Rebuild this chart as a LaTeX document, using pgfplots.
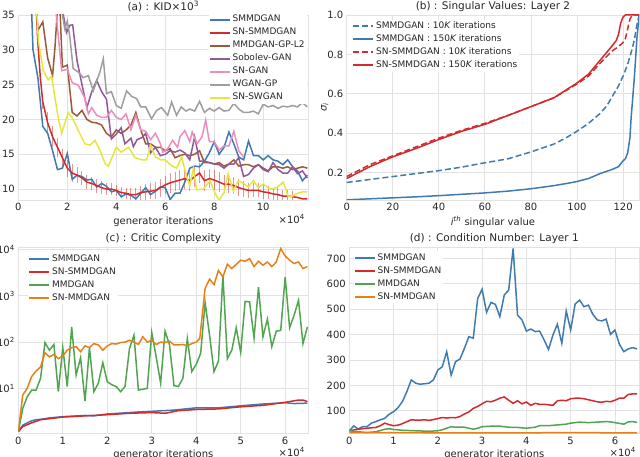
\documentclass[border=0pt]{standalone}
\usepackage{fontspec}
\setmainfont{DejaVu Sans}
\usepackage{pgfplots}
\pgfplotsset{compat=1.18}
\definecolor{cb}{HTML}{3F7AB0}
\definecolor{cr}{HTML}{D42A2C}
\definecolor{cg}{HTML}{52A550}
\definecolor{cp}{HTML}{925799}
\definecolor{co}{HTML}{E8801A}
\definecolor{cy}{HTML}{E6E640}
\definecolor{cbr}{HTML}{9A5A35}
\definecolor{cpk}{HTML}{EB8DBE}
\definecolor{cgr}{HTML}{9E9E9E}
\definecolor{gridc}{HTML}{E2E2E2}
\definecolor{txt}{HTML}{262626}
\pgfplotsset{
 every axis title shift=0pt,
 sea/.style={
  scale only axis,
  axis line style={draw=gridc, line width=0.9pt},
  grid=major, major grid style={draw=gridc, line width=0.9pt},
  major tick length=0pt, minor tick length=0pt,
  tick label style={font=\fontsize{10}{12}\selectfont, text=txt},
  label style={font=\fontsize{10}{12}\selectfont, text=txt},
  title style={font=\fontsize{10.5}{12}\selectfont, text=txt},
  legend style={draw=none, fill=white,
    font=\fontsize{9}{10}\selectfont, text=txt, row sep=0pt, inner sep=0pt,
    nodes={inner sep=2pt, text height=6.8pt, text depth=2.2pt}},
  legend cell align=left,
  legend image code/.code={\draw[##1, line width=2pt] (0pt,0pt) -- (20pt,0pt);},
  /pgf/number format/assume math mode=true,
  every axis plot/.append style={line width=1.5pt, mark=none},
  xlabel style={yshift=1.5pt},
 },
 sci/.style={
  after end axis/.code={\node[anchor=north east, font=\fontsize{10}{12}\selectfont, text=txt] at (rel axis cs:1,0) [yshift=-11pt] {×10\textsuperscript{4}};}
 }
}
\begin{document}
\begin{tikzpicture}
% ---------------- (a)
\begin{axis}[sea, sci, at={(18.3pt,-200pt)}, anchor=south west,
 width=290pt, height=185pt,
 xmin=0, xmax=11.84, ymin=8.43, ymax=35,
 xtick={0,2,4,6,8,10}, ytick={10,15,20,25,30,35},
 title={(a) : KID×10\textsuperscript{3}},
 xlabel={generator iterations},
 legend style={at={(0.995,1.0)}, anchor=north east, yshift=2pt}]
\addplot[draw=none, forget plot, error bars/.cd, y dir=both, y explicit,
 error bar style={line width=1pt, draw=cr, opacity=0.5}, error mark=none]
 table[x=x, y=y, y error=e] {
x y e
1.0 22.5 1.0
1.2 19.5 1.5
1.4 17.5 1.5
1.6 16.0 1.4
1.8 14.5 1.3
2.0 13.0 1.2
2.2 12.3 1.3
2.4 12.0 1.1
2.6 11.6 1.0
2.8 11.0 1.0
3.0 10.8 0.9
3.2 10.5 1.0
3.4 10.2 0.9
3.6 10.0 0.8
3.8 10.0 0.9
4.0 9.8 0.8
4.2 9.5 0.8
4.4 9.4 0.8
4.6 9.2 0.9
4.8 9.2 1.0
5.0 9.5 1.0
5.2 9.6 1.1
5.4 9.7 1.1
5.6 9.8 1.2
5.8 10.2 1.3
6.0 10.6 1.3
6.2 10.9 1.4
6.4 11.1 1.4
6.6 11.3 1.4
6.8 11.5 1.5
7.0 11.2 1.5
7.2 11.8 1.5
7.4 12.3 1.5
7.6 11.2 1.5
7.8 11.5 1.4
8.0 11.3 1.4
8.2 11.0 1.4
8.4 10.7 1.3
8.6 10.7 1.3
8.8 10.5 1.2
9.0 10.2 1.2
9.2 10.0 1.1
9.4 9.8 1.1
9.6 9.8 1.0
9.8 9.8 1.0
10.0 9.6 1.0
10.2 9.5 0.9
10.4 9.3 0.9
10.6 9.2 0.9
10.8 9.0 0.8
11.0 9.0 0.8
11.2 8.9 0.8
};
\addplot[cb] table {
0.4 50
0.6 30
0.8 26
1.0 19
1.2 18
1.4 15.5
1.6 12.8
1.8 13.0
2.0 15.1
2.2 11.4
2.4 12.0
2.6 11.8
2.8 11.3
3.0 11.4
3.2 10.3
3.4 10.8
3.6 10.4
3.8 9.6
4.0 9.8
4.2 8.9
4.4 9.3
4.6 9.1
4.8 8.6
5.0 9.4
5.2 10.2
5.4 9.2
5.6 9.7
5.8 10.3
6.0 10.2
6.2 8.5
6.4 9.4
6.6 9.4
6.8 11.0
7.0 13.0
7.2 13.3
7.4 13.2
7.6 14.0
7.8 15.2
8.0 16.8
8.2 15.0
8.4 16.0
8.6 18.2
8.8 16.5
9.0 14.6
9.2 14.2
9.4 16.9
9.6 14.8
9.8 14.8
10.0 14.2
10.2 14.8
10.4 14.2
10.6 14.0
10.8 13.5
11.0 14.2
11.2 13.2
11.4 12.6
11.6 11.2
11.8 12.0
};
\addlegendentry{SMMDGAN}
\addplot[cr] table {
0.6 45
0.8 31
0.9 26
1.0 22.5
1.2 19.5
1.4 17.5
1.6 16.0
1.8 14.5
2.0 13.0
2.2 12.3
2.4 12.0
2.6 11.6
2.8 11.0
3.0 10.8
3.2 10.5
3.4 10.2
3.6 10.0
3.8 10.0
4.0 9.8
4.2 9.5
4.4 9.4
4.6 9.2
4.8 9.2
5.0 9.5
5.2 9.6
5.4 9.7
5.6 9.8
5.8 10.2
6.0 10.6
6.2 10.9
6.4 11.1
6.6 11.3
6.8 11.5
7.0 11.2
7.2 11.8
7.4 12.3
7.6 11.2
7.8 11.5
8.0 11.3
8.2 11.0
8.4 10.7
8.6 10.7
8.8 10.5
9.0 10.2
9.2 10.0
9.4 9.8
9.6 9.8
9.8 9.8
10.0 9.6
10.2 9.5
10.4 9.3
10.6 9.2
10.8 9.0
11.0 9.0
11.2 8.9
11.4 8.8
11.6 8.6
11.8 8.6
};
\addlegendentry{SN-SMMDGAN}
\addplot[cbr] table {
0.6 45
0.8 32.8
1.0 34.0
1.2 28.8
1.4 26.3
1.5 30.5
1.6 36
1.7 36
1.8 27.5
2.0 27.8
2.2 21.0
2.4 20.5
2.6 21.3
2.8 20.0
3.0 19.6
3.2 19.5
3.4 19.2
3.6 18.0
3.8 17.5
4.0 18.5
4.2 18.0
4.4 18.5
4.6 19.2
4.8 21.0
5.0 18.5
5.2 16.5
5.4 16.5
5.6 16.0
5.8 16.0
6.0 15.5
6.2 15.8
6.4 14.5
6.6 14.8
6.8 15.0
7.0 14.8
7.2 15.0
7.4 15.5
7.6 13.8
7.8 13.8
8.0 13.6
8.2 13.8
8.4 13.3
8.6 13.6
8.8 14.2
9.0 13.3
9.2 13.5
9.4 13.5
9.6 13.2
9.8 13.5
10.0 13.0
10.2 12.6
10.4 13.2
10.6 13.2
10.8 13.0
11.0 13.2
11.2 12.8
11.4 13.0
11.6 13.2
11.8 13.0
};
\addlegendentry{MMDGAN-GP-L2}
\addplot[cp] table {
1.6 45
1.84 35
1.97 32.5
2.1 33.5
2.22 33.6
2.4 28.4
2.6 25.0
2.8 21.7
3.0 24.0
3.2 25.6
3.4 24.0
3.6 22.9
3.8 17.2
4.0 17.9
4.2 18.8
4.35 16.5
4.6 17.3
4.7 16.1
4.85 17.1
5.05 17.4
5.2 18.0
5.4 15.2
5.6 16.0
5.8 14.8
6.0 15.0
6.2 15.5
6.4 15.3
6.6 15.6
6.8 15.2
7.0 14.2
7.2 17.5
7.4 14.0
7.6 14.0
7.8 13.8
8.0 13.6
8.2 13.5
8.4 13.0
8.6 13.6
8.8 13.6
9.0 14.5
9.2 11.8
9.4 12.1
9.6 13.0
9.8 13.5
10.0 12.8
10.2 12.5
10.4 13.8
10.6 12.8
10.8 12.3
11.0 12.3
11.2 13.2
11.4 12.2
11.6 12.6
11.8 11.6
};
\addlegendentry{Sobolev-GAN}
\addplot[cpk] table {
1.4 50
1.55 35
1.77 27.0
2.0 27.2
2.2 25.3
2.45 24.9
2.7 23.2
2.86 20.8
3.0 21.7
3.2 20.6
3.4 20.3
3.6 20.3
3.8 21.3
4.0 20.3
4.2 20.0
4.4 20.8
4.6 18.5
4.8 20.6
5.0 18.5
5.2 18.3
5.4 17.1
5.6 18.0
5.8 16.5
5.9 15.3
6.1 15.8
6.3 17.0
6.5 16.0
6.6 17.5
6.8 18.4
7.0 16.8
7.1 18.2
7.3 16.5
7.5 17.5
7.65 19.9
7.8 16.8
8.0 16.8
8.2 15.6
8.4 16.2
8.6 16.2
8.8 18.3
9.0 15.5
9.2 14.6
};
\addlegendentry{SN-GAN}
\addplot[cgr] table {
1.7 45
1.8 35
1.9 33.0
2.0 34.1
2.1 32.0
2.24 27.3
2.45 26.8
2.65 26.0
2.86 26.3
3.06 24.1
3.33 26.8
3.47 28.7
3.6 23.7
3.8 24.0
4.0 22.0
4.2 21.6
4.42 24.1
4.63 23.3
4.83 23.0
5.0 21.8
5.2 21.8
5.44 20.1
5.65 21.3
5.85 21.7
6.1 20.6
6.26 22.5
6.46 20.6
6.65 21.8
6.85 21.2
7.0 21.5
7.2 21.2
7.4 22.6
7.6 21.0
7.8 21.6
8.0 21.2
8.2 21.7
8.4 21.2
8.6 21.3
8.8 22.3
9.0 21.5
9.2 21.0
9.4 21.0
9.6 21.2
9.8 20.8
10.0 22.2
10.2 21.8
10.4 22.0
10.6 21.6
10.8 21.9
11.0 21.8
11.2 22.0
11.4 21.8
11.6 22.4
11.8 21.8
};
\addlegendentry{WGAN-GP}
\addplot[cy] table {
0.6 45
0.82 31.3
1.02 27.0
1.22 25.7
1.36 26.2
1.5 23
1.63 20.3
1.77 18.0
2.04 21.0
2.24 20.0
2.45 18.4
2.72 16.5
2.93 16.3
3.13 17.0
3.33 15.6
3.54 13.7
3.68 13.3
4.0 16.0
4.2 15.3
4.5 16.0
4.77 14.5
5.04 14.2
5.24 14.2
5.4 16.3
5.6 14.6
5.8 14.2
6.0 14.2
6.2 13.5
6.46 13.0
6.67 14.6
6.87 11.8
7.0 10.5
7.15 13.0
7.28 9.9
7.56 10.0
7.83 11.2
8.03 9.4
8.2 8.4
8.4 9.5
8.57 12.2
8.78 9.7
8.98 11.2
9.2 10.8
9.4 10.3
9.6 11.2
9.8 10.2
10.0 10.7
10.3 10.0
10.55 10.2
10.82 11.0
11.02 8.9
11.2 9.0
11.42 9.4
11.6 9.6
11.8 9.6
};
\addlegendentry{SN-SWGAN}
\end{axis}
% ---------------- (b)
\begin{axis}[sea, at={(346.7pt,-200pt)}, anchor=south west,
 width=292.5pt, height=185pt,
 xmin=0, xmax=127, ymin=0.061, ymax=1.0,
 xtick={0,20,40,60,80,100,120}, ytick={0.2,0.4,0.6,0.8,1.0},
 yticklabel style={/pgf/number format/.cd, fixed, precision=1, fixed zerofill},
 title={(b) : Singular Values: Layer 2},
 xlabel={{\itshape i}\textsuperscript{\itshape th} singular value},
 ylabel={{\itshape σ}\textsubscript{\itshape i}}, ylabel style={yshift=-8pt},
 legend style={at={(0.018,0.975)}, anchor=north west}]
\addplot[cb, dash pattern=on 6pt off 3pt] table {
0 0.15
10 0.165
20 0.18
30 0.195
40 0.21
50 0.228
60 0.25
70 0.27
80 0.305
90 0.345
95 0.375
100 0.41
105 0.45
110 0.5
113 0.54
116 0.6
118 0.64
120 0.69
122 0.75
124 0.83
125 0.88
126 0.95
127 1.0
};
\addlegendentry{SMMDGAN : 10{\itshape K} iterations}
\addplot[cb] table {
0 0.062
10 0.067
20 0.072
30 0.077
40 0.083
50 0.09
60 0.097
70 0.106
80 0.118
90 0.134
97 0.148
100 0.155
105 0.17
110 0.195
115 0.215
118 0.23
119 0.245
120 0.26
121 0.27
122 0.30
123 0.38
123.5 0.48
124 0.55
125 0.7
126 0.88
127 1.0
};
\addlegendentry{SMMDGAN : 150{\itshape K} iterations}
\addplot[cr, dash pattern=on 6pt off 3pt] table {
0 0.18
5 0.21
10 0.24
20 0.285
30 0.33
40 0.375
50 0.415
60 0.45
70 0.49
80 0.535
90 0.58
100 0.65
105 0.69
110 0.755
115 0.815
118 0.84
120 0.86
121 0.88
122 0.93
123 0.98
124 1.0
127 1.0
};
\addlegendentry{SN-SMMDGAN : 10{\itshape K} iterations}
\addplot[cr] table {
0 0.17
5 0.2
10 0.23
20 0.28
30 0.322
40 0.368
50 0.41
60 0.445
70 0.49
80 0.535
90 0.58
100 0.655
105 0.7
110 0.77
115 0.84
117 0.87
118 0.9
119 0.96
120 0.99
121 1.0
127 1.0
};
\addlegendentry{SN-SMMDGAN : 150{\itshape K} iterations}
\end{axis}
% ---------------- (c)
\begin{axis}[sea, sci, at={(18.3pt,-433.3pt)}, anchor=south west,
 width=290pt, height=185.6pt,
 xmin=0, xmax=6.52, ymode=log, ymin=1.07, ymax=11000,
 xtick={0,1,2,3,4,5,6}, ytick={10,100,1000,10000},
 yticklabels={10\textsuperscript{1},10\textsuperscript{2},10\textsuperscript{3},10\textsuperscript{4}},
 title={(c) : Critic Complexity},
 xlabel={generator iterations},
 legend style={at={(0.033,0.976)}, anchor=north west}]
\addplot[cb] table {
0 1.16
0.1 1.6
0.2 1.8
0.3 2.0
0.4 2.1
0.5 2.15
0.7 2.3
1.0 2.45
1.5 2.6
1.7 2.55
2.0 2.8
2.5 3.0
2.7 3.1
3.0 3.2
3.5 3.4
4.0 3.8
4.5 3.8
5.0 4.2
5.5 4.6
6.0 4.9
6.2 4.7
6.5 4.8
};
\addlegendentry{SMMDGAN}
\addplot[cr] table {
0 1.16
0.1 1.5
0.3 1.8
0.5 2.1
1.0 2.4
1.5 2.55
2.0 2.7
2.5 2.9
3.0 3.0
3.3 2.9
3.6 3.3
4.0 3.5
4.5 3.6
5.0 4.0
5.5 4.3
6.0 5.0
6.3 5.6
6.4 5.6
6.5 5.2
};
\addlegendentry{SN-SMMDGAN}
\addplot[cg] table {
0 1.16
0.1 3.7
0.2 6.6
0.3 9.2
0.4 9.2
0.5 16.5
0.6 98
0.7 67
0.8 89
0.9 8.5
1.0 76
1.1 11
1.2 214
1.3 19.5
1.4 46
1.5 5.3
1.6 76
1.7 8.5
1.8 13
1.9 36
2.0 14
2.1 12
2.2 11
2.3 8.5
2.4 11
2.5 73
2.6 142
2.7 9.2
2.8 9.6
2.9 10
3.0 162
3.1 48
3.2 13
3.3 173
3.4 87
3.5 11.5
3.6 11
3.7 16.5
3.8 120
3.9 23
4.0 33
4.1 57
4.2 720
4.3 142
4.4 23
4.5 39
4.6 2800
4.7 44
4.8 67
4.9 204
5.0 60
5.1 760
5.2 740
5.3 123
5.4 1550
5.5 130
5.6 315
5.7 80
5.8 173
5.9 180
6.0 2570
6.1 204
6.2 380
6.3 800
6.4 93
6.5 214
};
\addlegendentry{MMDGAN}
\addplot[co] table {
0 1.16
0.1 7.2
0.2 10
0.3 18
0.4 23.7
0.5 29
0.6 59
0.7 48
0.8 54
0.9 44
1.0 50
1.1 67
1.2 76
1.3 80
1.4 62
1.5 83
1.6 76
1.7 93
1.8 87
1.9 67
2.0 83
2.1 93
2.2 91
2.3 98
2.4 100
2.5 110
2.6 100
2.7 89
2.8 131
2.9 100
3.0 110
3.1 89
3.2 100
3.3 98
3.4 105
3.5 87
3.6 87
3.7 89
3.8 83
3.9 93
4.0 100
4.08 120
4.2 1450
4.3 2300
4.4 1750
4.5 3550
4.6 2570
4.7 4800
4.8 3900
4.9 4800
5.0 5900
5.1 5600
5.2 6400
5.3 4300
5.4 5600
5.5 4600
5.6 5400
5.7 4300
5.8 5400
5.9 10500
6.0 7300
6.1 5900
6.2 5000
6.3 5400
6.4 3900
6.5 4300
};
\addlegendentry{SN-MMDGAN}
\end{axis}
% ---------------- (d)
\begin{axis}[sea, sci, at={(349.3pt,-433.3pt)}, anchor=south west,
 width=290pt, height=185.6pt,
 xmin=0, xmax=6.55, ymin=12, ymax=742,
 xtick={0,1,2,3,4,5,6}, ytick={100,200,300,400,500,600,700},
 title={(d) : Condition Number: Layer 1},
 xlabel={generator iterations},
 legend style={at={(0.014,0.981)}, anchor=north west}]
\addplot[cb] table {
0 21
0.1 41
0.2 29
0.3 38
0.4 38
0.5 52
0.6 58
0.7 65
0.8 71
0.9 87
1.0 97
1.1 113
1.2 137
1.3 176
1.4 222
1.5 209
1.6 205
1.7 207
1.8 209
1.9 222
2.0 261
2.1 274
2.2 333
2.3 241
2.4 294
2.5 304
2.6 346
2.7 392
2.8 386
2.9 543
3.0 578
3.1 488
3.2 527
3.3 519
3.4 471
3.5 556
3.6 575
3.7 739
3.8 477
3.9 458
4.0 414
4.1 422
4.2 412
4.3 414
4.4 379
4.5 342
4.6 399
4.7 441
4.8 366
4.9 493
5.0 418
5.1 520
5.2 536
5.3 510
5.4 516
5.5 480
5.6 458
5.7 454
5.8 461
5.9 401
6.0 418
6.1 362
6.2 333
6.3 344
6.4 349
6.5 344
};
\addlegendentry{SMMDGAN}
\addplot[cr] table {
0 22
0.2 28
0.4 32
0.6 35
0.7 42
0.8 52
0.9 46
1.0 42
1.1 44
1.2 50
1.3 58
1.4 65
1.5 64
1.6 64
1.7 65
1.8 63
1.9 66
2.0 70
2.1 74
2.2 72
2.3 74
2.4 73
2.5 78
2.6 88
2.7 96
2.8 110
2.9 118
3.0 128
3.1 138
3.2 136
3.3 142
3.4 150
3.5 155
3.6 142
3.7 130
3.8 140
3.9 128
4.0 135
4.1 122
4.2 130
4.3 126
4.4 126
4.5 124
4.6 122
4.7 140
4.8 142
4.9 140
5.0 148
5.1 150
5.2 150
5.3 148
5.4 144
5.5 140
5.6 136
5.7 134
5.8 138
5.9 136
6.0 142
6.1 150
6.2 150
6.3 165
6.4 167
6.5 167
};
\addlegendentry{SN-SMMDGAN}
\addplot[cg] table {
0 22
0.2 18
0.4 15
0.6 18
0.8 28
0.9 30
1.0 27
1.2 24
1.5 22
1.8 20
2.0 22
2.1 26
2.3 38
2.4 36
2.6 36
2.8 28
2.9 32
3.0 38
3.2 40
3.4 40
3.6 36
3.8 35
4.0 32
4.2 36
4.3 42
4.5 42
4.7 45
4.9 48
5.0 52
5.2 56
5.4 54
5.6 56
5.8 58
5.9 57
6.0 54
6.2 48
6.3 57
6.4 58
6.5 55
};
\addlegendentry{MMDGAN}
\addplot[co] table {
0 15
1 14.5
2 14
3 14
4 14
5 14.5
6 14
6.5 14
};
\addlegendentry{SN-MMDGAN}
\end{axis}
\pgfresetboundingbox
\path[use as bounding box] (0pt,0pt) rectangle (640pt,-457pt);
\end{tikzpicture}
\end{document}
